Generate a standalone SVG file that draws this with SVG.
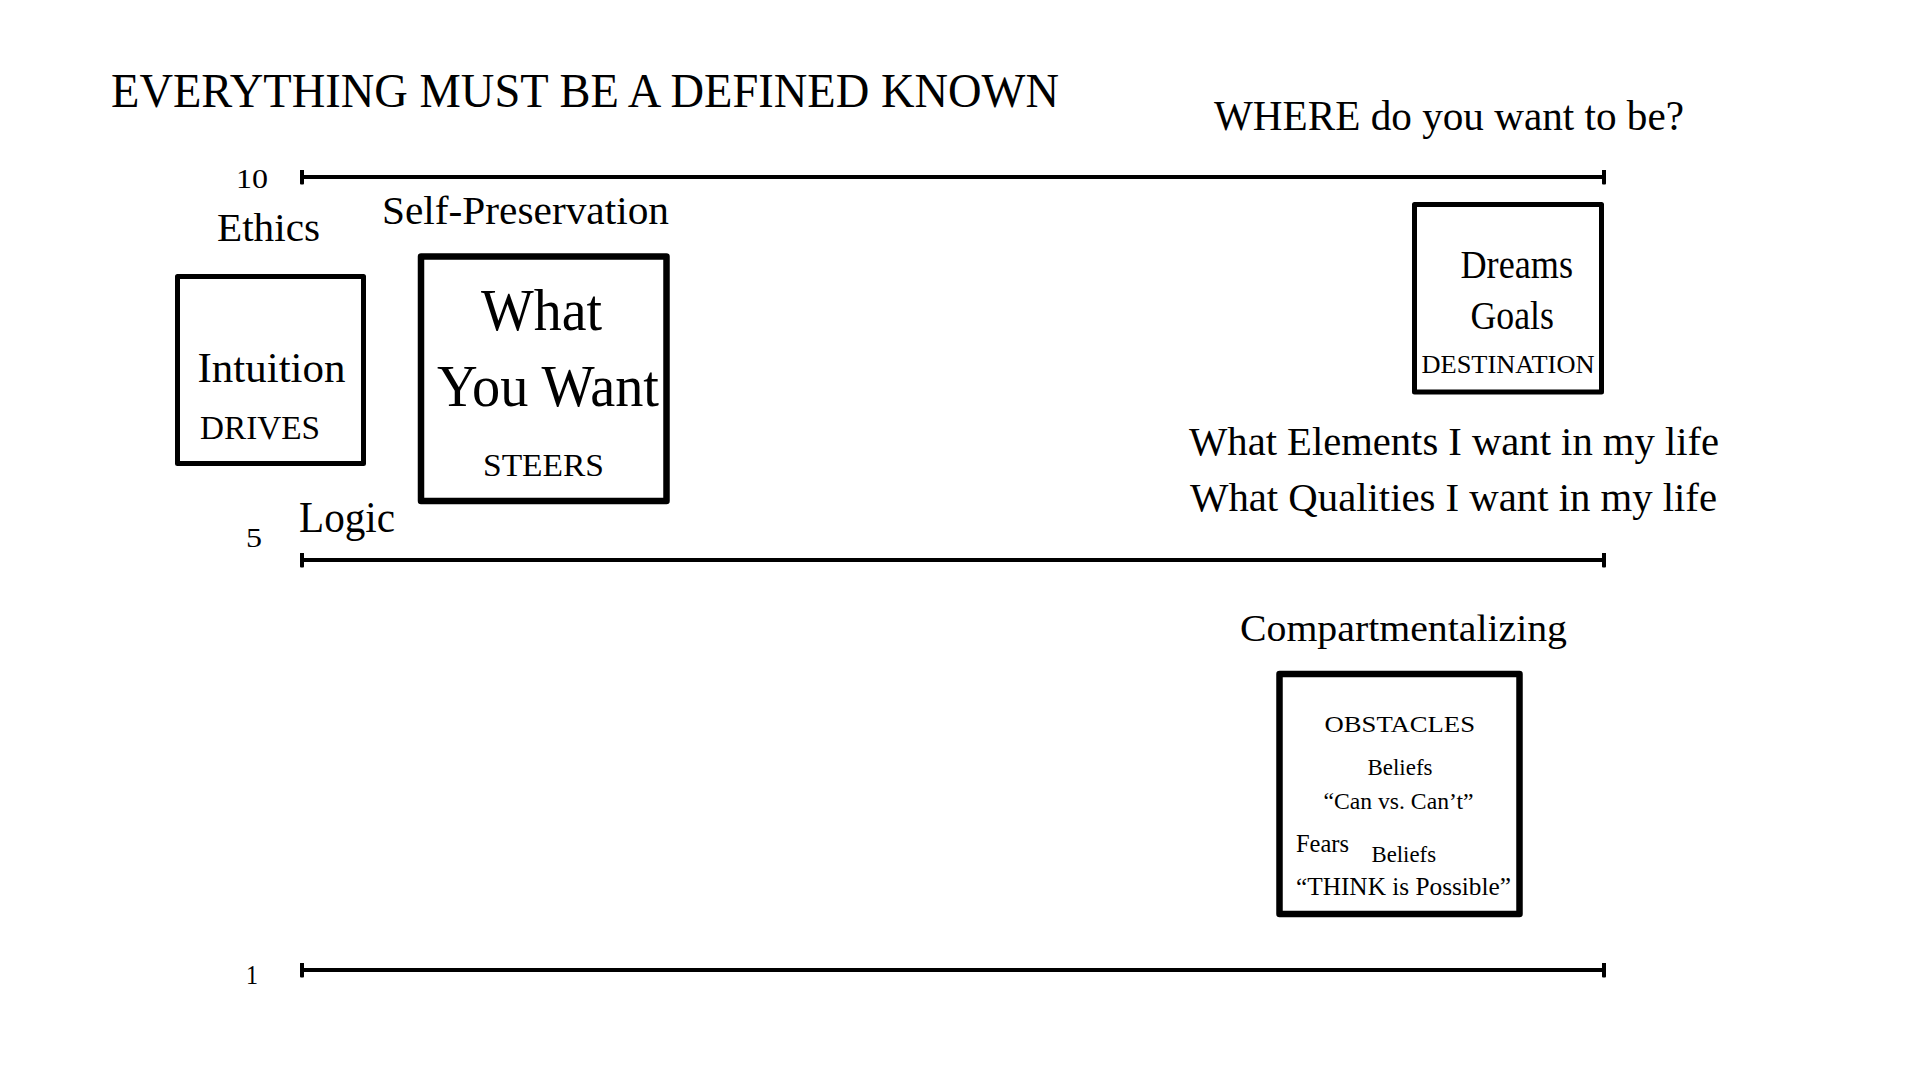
<svg xmlns="http://www.w3.org/2000/svg" width="1920" height="1080" viewBox="0 0 1920 1080">
  <defs>
    <marker id="tick" viewBox="0 0 4 15" refX="2" refY="7.5" markerWidth="4" markerHeight="15" markerUnits="userSpaceOnUse" orient="auto">
      <rect x="0" y="0" width="4" height="15" rx="1" fill="#000"/>
    </marker>
    <style>
      text { font-family: "Liberation Serif", "DejaVu Serif", serif; fill: #000; }
      .box { fill: none; stroke: #000; stroke-linejoin: round; }
      .axis { fill: none; stroke: #000; stroke-width: 4; marker-start: url(#tick); marker-end: url(#tick); }
    </style>
  </defs>
  <rect x="0" y="0" width="1920" height="1080" fill="#fff"/>

  <g id="title">
    <text x="111" y="106.5" font-size="48" textLength="948" lengthAdjust="spacingAndGlyphs">EVERYTHING MUST BE A DEFINED KNOWN</text>
  </g>
  <g id="where">
    <text x="1214" y="129.5" font-size="42" textLength="470" lengthAdjust="spacingAndGlyphs">WHERE do you want to be?</text>
  </g>

  <g id="scale-lines">
    <line class="axis" x1="302" y1="177" x2="1604" y2="177"/>
    <line class="axis" x1="302" y1="560" x2="1604" y2="560"/>
    <line class="axis" x1="302" y1="970" x2="1604" y2="970"/>
  </g>

  <g id="scale-labels">
    <text x="236" y="188" font-size="27" textLength="32" lengthAdjust="spacingAndGlyphs">10</text>
    <text x="246" y="547" font-size="27" textLength="16" lengthAdjust="spacingAndGlyphs">5</text>
    <text x="246" y="984" font-size="27" textLength="12" lengthAdjust="spacingAndGlyphs">1</text>
  </g>

  <g id="ethics">
    <text x="217" y="241" font-size="41" textLength="103" lengthAdjust="spacingAndGlyphs">Ethics</text>
  </g>
  <g id="self-preservation">
    <text x="382" y="223.5" font-size="41" textLength="287" lengthAdjust="spacingAndGlyphs">Self-Preservation</text>
  </g>
  <g id="logic">
    <text x="299" y="532" font-size="44" textLength="96" lengthAdjust="spacingAndGlyphs">Logic</text>
  </g>

  <g id="intuition">
    <rect class="box" x="177.5" y="276.5" width="186" height="187" stroke-width="5"/>
    <text x="197.5" y="381.5" font-size="43" textLength="148" lengthAdjust="spacingAndGlyphs">Intuition</text>
    <text x="200" y="439" font-size="34" textLength="120" lengthAdjust="spacingAndGlyphs">DRIVES</text>
  </g>

  <g id="what-you-want">
    <rect class="box" x="421" y="256.5" width="245.5" height="244.5" stroke-width="6.5"/>
    <text x="481" y="329.5" font-size="59" textLength="121" lengthAdjust="spacingAndGlyphs">What</text>
    <text x="437" y="405.5" font-size="59" textLength="222" lengthAdjust="spacingAndGlyphs">You Want</text>
    <text x="483" y="475.5" font-size="32" textLength="121" lengthAdjust="spacingAndGlyphs">STEERS</text>
  </g>

  <g id="dreams-goals">
    <rect class="box" x="1414.5" y="204.5" width="187" height="187.5" stroke-width="5"/>
    <text x="1460.5" y="277.5" font-size="39" textLength="112.5" lengthAdjust="spacingAndGlyphs">Dreams</text>
    <text x="1470.5" y="328.5" font-size="39" textLength="83.5" lengthAdjust="spacingAndGlyphs">Goals</text>
    <text x="1421.5" y="372.5" font-size="26" textLength="173" lengthAdjust="spacingAndGlyphs">DESTINATION</text>
  </g>

  <g id="elements-qualities">
    <text x="1189" y="455" font-size="40" textLength="530" lengthAdjust="spacingAndGlyphs">What Elements I want in my life</text>
    <text x="1190" y="511" font-size="40" textLength="527" lengthAdjust="spacingAndGlyphs">What Qualities I want in my life</text>
  </g>

  <g id="compartmentalizing">
    <text x="1240" y="641" font-size="38" textLength="327" lengthAdjust="spacingAndGlyphs">Compartmentalizing</text>
  </g>

  <g id="obstacles">
    <rect class="box" x="1279.5" y="674" width="240" height="240" stroke-width="6.5"/>
    <text x="1324.5" y="731.5" font-size="24" textLength="150.5" lengthAdjust="spacingAndGlyphs">OBSTACLES</text>
    <text x="1367.5" y="775" font-size="23" textLength="65" lengthAdjust="spacingAndGlyphs">Beliefs</text>
    <text x="1323.5" y="809" font-size="23" textLength="150" lengthAdjust="spacingAndGlyphs">“Can vs. Can’t”</text>
    <text x="1296" y="851.5" font-size="25" textLength="53" lengthAdjust="spacingAndGlyphs">Fears</text>
    <text x="1371.5" y="861.5" font-size="23" textLength="64.5" lengthAdjust="spacingAndGlyphs">Beliefs</text>
    <text x="1296" y="895" font-size="25" textLength="215" lengthAdjust="spacingAndGlyphs">“THINK is Possible”</text>
  </g>
</svg>
